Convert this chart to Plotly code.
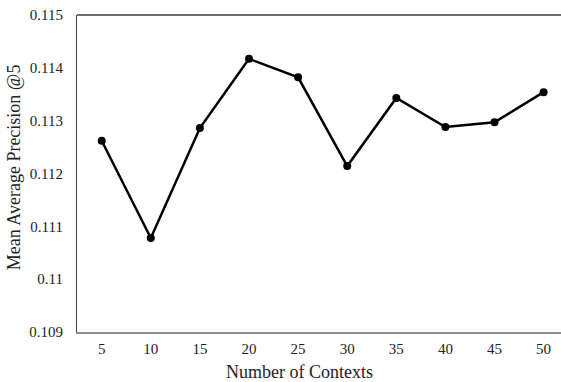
import plotly.graph_objects as go

contexts = ["5", "10", "15", "20", "25", "30", "35", "40", "45", "50"]
map_at_5 = [0.11262, 0.11078, 0.11286, 0.11417, 0.11382, 0.11214, 0.11343, 0.11288, 0.11297, 0.11354]
y_tick_vals = [0.109, 0.110, 0.111, 0.112, 0.113, 0.114, 0.115]
y_tick_text = ["0.109", "0.11", "0.111", "0.112", "0.113", "0.114", "0.115"]

FONT = "Liberation Serif"

fig = go.Figure()
fig.add_trace(go.Scatter(
    x=contexts, y=map_at_5, mode="lines+markers",
    line=dict(color="black", width=2.5),
    marker=dict(color="black", size=8),
    showlegend=False,
))

fig.update_layout(
    width=561, height=382,
    margin=dict(l=77, r=0, t=15, b=50),
    paper_bgcolor="white", plot_bgcolor="white",
    font=dict(family=FONT, size=15, color="#222222"),
    xaxis=dict(
        type="category", range=[-0.503, 9.354],
        showgrid=False, zeroline=False,
        showline=True, linecolor="#8c8c8c", linewidth=1.5,
        ticks="", ticklabelstandoff=2,
        tickfont=dict(family=FONT, size=15, color="#222222"),
    ),
    yaxis=dict(
        range=[0.109, 0.115],
        tickvals=y_tick_vals, ticktext=y_tick_text,
        showgrid=False, zeroline=False,
        showline=True, linecolor="#404040", linewidth=1,
        ticks="", ticklabelstandoff=10,
        tickfont=dict(family=FONT, size=15, color="#222222"),
    ),
    shapes=[dict(type="line", xref="paper", yref="paper", x0=0, x1=1, y0=1, y1=1,
                 line=dict(color="#404040", width=1.5))],
    annotations=[
        dict(text="Number of Contexts", xref="paper", yref="paper",
             x=0.4587, y=-0.126, xanchor="center", yanchor="middle", showarrow=False,
             font=dict(family=FONT, size=18, color="#222222")),
        dict(text="Mean Average Precision @5", xref="paper", yref="paper",
             x=-0.13, y=0.52, xanchor="center", yanchor="middle", showarrow=False,
             textangle=-90, font=dict(family=FONT, size=18, color="#222222")),
    ],
)

fig.write_html("out.html")
